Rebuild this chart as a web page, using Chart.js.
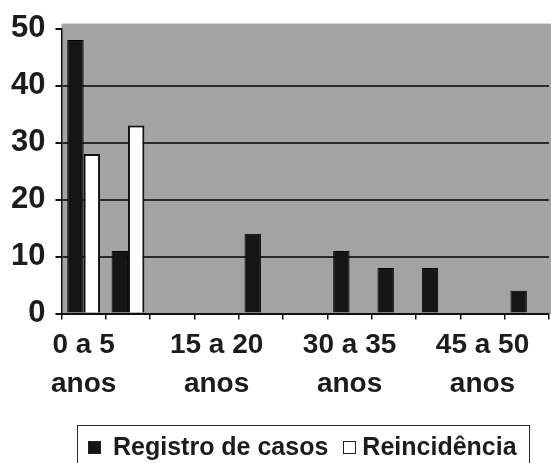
<!DOCTYPE html>
<html>
<head>
<meta charset="utf-8">
<script src="https://cdn.jsdelivr.net/npm/chart.js@4"></script>
<style>
  html, body { margin: 0; padding: 0; background: #fff; overflow: hidden; }
  #wrap { width: 551px; height: 463px; position: relative; overflow: hidden; }
  #legend {
    position: absolute; left: 77px; top: 425px; width: 453px; height: 44px;
    border: 1.5px solid #2a2a2a; box-sizing: border-box;
    font: bold 25px 'Liberation Sans', Arial, sans-serif; color: #1c1c1c;
    padding: 7px 0 0 10px; line-height: 26px; white-space: nowrap;
  }
  #legend .item { display: inline-block; }
  #legend .sw { display: inline-block; width: 13px; height: 13px; box-sizing: border-box; vertical-align: 1px; }
</style>
</head>
<body>
<div id="wrap">
  <canvas id="chart"></canvas>
  <div id="legend"></div>
</div>
<script>
// Faixas etárias (eixo x)
const AGE_GROUPS = [
  ["0 a 5", "anos"], ["5 a 10", "anos"], ["10 a 15", "anos"], ["15 a 20", "anos"],
  ["20 a 25", "anos"], ["25 a 30", "anos"], ["30 a 35", "anos"], ["35 a 40", "anos"],
  ["40 a 45", "anos"], ["45 a 50", "anos"], ["50 a 55", "anos"]
];
const REGISTRO = [48, 11, 0, 0, 14, 0, 11, 8, 8, 0, 4];
const REINCIDENCIA = [28, 33, 0, 0, 0, 0, 0, 0, 0, 0, 0];
const Y_TICKS = [0, 10, 20, 30, 40, 50];

const FONT = "'Liberation Sans', Arial, sans-serif";
const INK = "#1c1c1c";

/* ── grey plot wall ─────────────────────────────────────────*/
const plotWall = {
  id: "plotWall",
  beforeDraw(chart) {
    const a = chart.chartArea, ctx = chart.ctx;
    ctx.save();
    ctx.fillStyle = "#a3a3a3";
    ctx.fillRect(a.left, a.top - 5, chart.width - a.left, a.bottom - a.top + 5);
    ctx.restore();
  }
};

const chart = new Chart(document.getElementById("chart"), {
  type: "bar",
  data: {
    labels: AGE_GROUPS,
    datasets: [
      {
        label: "Registro de casos",
        data: REGISTRO,
        backgroundColor: "#151515",
        borderColor: "#000",
        borderWidth: 1,
        categoryPercentage: 0.74,
        barPercentage: 1
      },
      {
        label: "Reincidência",
        data: REINCIDENCIA,
        backgroundColor: "#ffffff",
        borderColor: "#111",
        borderWidth: 2,
        categoryPercentage: 0.74,
        barPercentage: 1
      }
    ]
  },
  options: {
    responsive: true,
    maintainAspectRatio: false,
    animation: false,
    layout: { padding: { top: 23, right: 2, bottom: 53, left: 1 } },
    scales: {
      x: {
        offset: true,
        grid: { offset: true, drawOnChartArea: false, drawTicks: true, tickLength: 6, color: "#111", lineWidth: 1.5 },
        border: { display: true, color: "#111", width: 2 },
        ticks: {
          autoSkip: false,
          maxRotation: 0,
          padding: 6,
          color: INK,
          font: { family: FONT, size: 28, weight: "bold", lineHeight: 1.4 },
          callback: (v, i) => (i % 3 === 0 ? AGE_GROUPS[i] : "")
        }
      },
      y: {
        min: 0,
        max: 50,
        afterBuildTicks: axis => { axis.ticks = Y_TICKS.map(v => ({ value: v })); },
        grid: {
          drawTicks: true,
          tickLength: 6,
          tickColor: "#111",
          lineWidth: 2,
          color: c => (c.tick && (c.tick.value === 0 || c.tick.value === 50) ? "rgba(0,0,0,0)" : "#2a2a2a")
        },
        border: { display: true, color: "#111", width: 1.5 },
        ticks: {
          padding: 10,
          color: INK,
          font: { family: FONT, size: 31, weight: "bold" }
        }
      }
    },
    plugins: {
      legend: { display: false },
      tooltip: { enabled: false }
    }
  },
  plugins: [plotWall]
});

/* ── HTML legend from the datasets ──────────────────────────*/
const gaps = [12, 6];
document.getElementById("legend").innerHTML = chart.data.datasets.map((d, i) =>
  `<span class="item" style="margin-right:${i === 0 ? 15 : 0}px">` +
  `<span class="sw" style="background:${d.backgroundColor};border:1px solid #222;margin-right:${gaps[i]}px"></span>` +
  `${d.label}</span>`).join("");
</script>
</body>
</html>
